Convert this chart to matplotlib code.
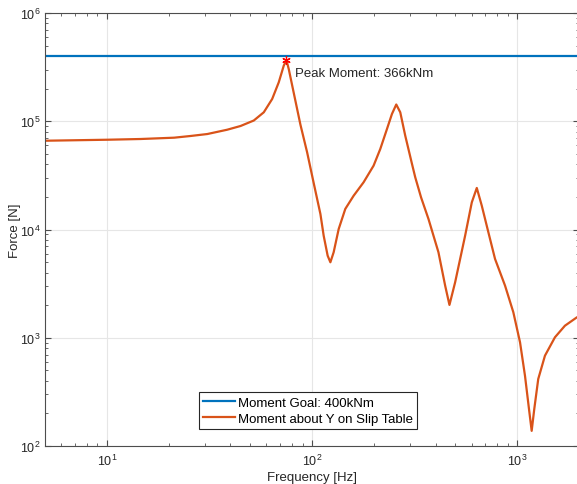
import numpy as np
import matplotlib
matplotlib.use("Agg")
import matplotlib.pyplot as plt

plt.rcParams['font.family'] = ['Liberation Sans', 'DejaVu Sans']
plt.rcParams['mathtext.default'] = 'regular'

# frequency [Hz] and moment response [N]
freq = [5.05, 10.08, 14.64, 21.3, 25.62, 30.9, 38.6, 44.86, 52.05, 58.23, 63.96,
        68.87, 72.83, 75.1, 77.02, 81.47, 87.83, 94.66, 101.9, 109.9, 114, 119.2,
        122.9, 127.5, 134.9, 145.3, 159.5, 178.4, 199.6, 215.1, 231.9, 245.2,
        257.4, 269.2, 284.7, 306.9, 318.4, 340, 369.5, 413.2, 445.5, 467.5, 498.2,
        557.3, 600.7, 635.3, 671.8, 723.5, 779.8, 872.3, 957.3, 1032, 1091, 1141,
        1176, 1211, 1266, 1365, 1527, 1708, 1954, 2000]
force = [66100, 67500, 68550, 70500, 73100, 76200, 83500, 90400, 101600, 121000,
         160500, 229000, 326000, 366000, 304000, 183000, 92900, 51700, 26900,
         13900, 8760, 5730, 4980, 6160, 10100, 15500, 20500, 27300, 38900, 55400,
         84800, 116700, 142800, 121000, 73500, 40500, 30400, 19800, 12500, 6160,
         3030, 2010, 3250, 8760, 17800, 24200, 16600, 9420, 5340, 3030, 1720, 908,
         446, 220, 138, 220, 416, 683, 1010, 1292, 1545, 1570]

goal = 400000
peak_f = 75.1
peak_val = 366000

fig = plt.figure(figsize=(5.77, 4.85), dpi=100)
ax = fig.add_axes([45/577, 38/485, 534/577, 433/485])

ax.loglog([5, 2000], [goal, goal], color='#0072BD', lw=1.6, label='Moment Goal: 400kNm')
ax.loglog(freq, force, color='#D95319', lw=1.6, label='Moment about Y on Slip Table')
ax.plot(peak_f, peak_val, marker=(6, 2, 0), color='red', ms=6, mew=0.9, ls='none')
ax.text(83, 277000, 'Peak Moment: 366kNm', fontsize=9.5, va='center', ha='left', color='#262626')

ax.set_xlim(5, 2000)
ax.set_ylim(100, 1e6)
ax.grid(True, which='major', color='#e6e6e6', lw=0.8)
ax.set_axisbelow(True)
ax.tick_params(which='both', direction='in', top=True, right=True, colors='#4d4d4d',
               labelcolor='#262626', labelsize=9)
ax.tick_params(which='major', length=4)
ax.tick_params(which='minor', length=2.5)
ax.tick_params(axis='x', which='both', pad=5)
for s in ax.spines.values():
    s.set_color('#4d4d4d')

ax.set_xlabel('Frequency [Hz]', fontsize=9.5, color='#262626', labelpad=2)
ax.set_ylabel('Force [N]', fontsize=9.5, color='#262626', labelpad=-1)

leg = ax.legend(loc='lower center', bbox_to_anchor=(0.4925, 0.04), fontsize=9.5,
                fancybox=False, edgecolor='#262626', framealpha=1,
                handlelength=2.4, handletextpad=0.2, borderpad=0.3,
                labelspacing=0.3, borderaxespad=0)
leg.get_frame().set_linewidth(0.8)

fig.savefig('out.png', dpi=100)
